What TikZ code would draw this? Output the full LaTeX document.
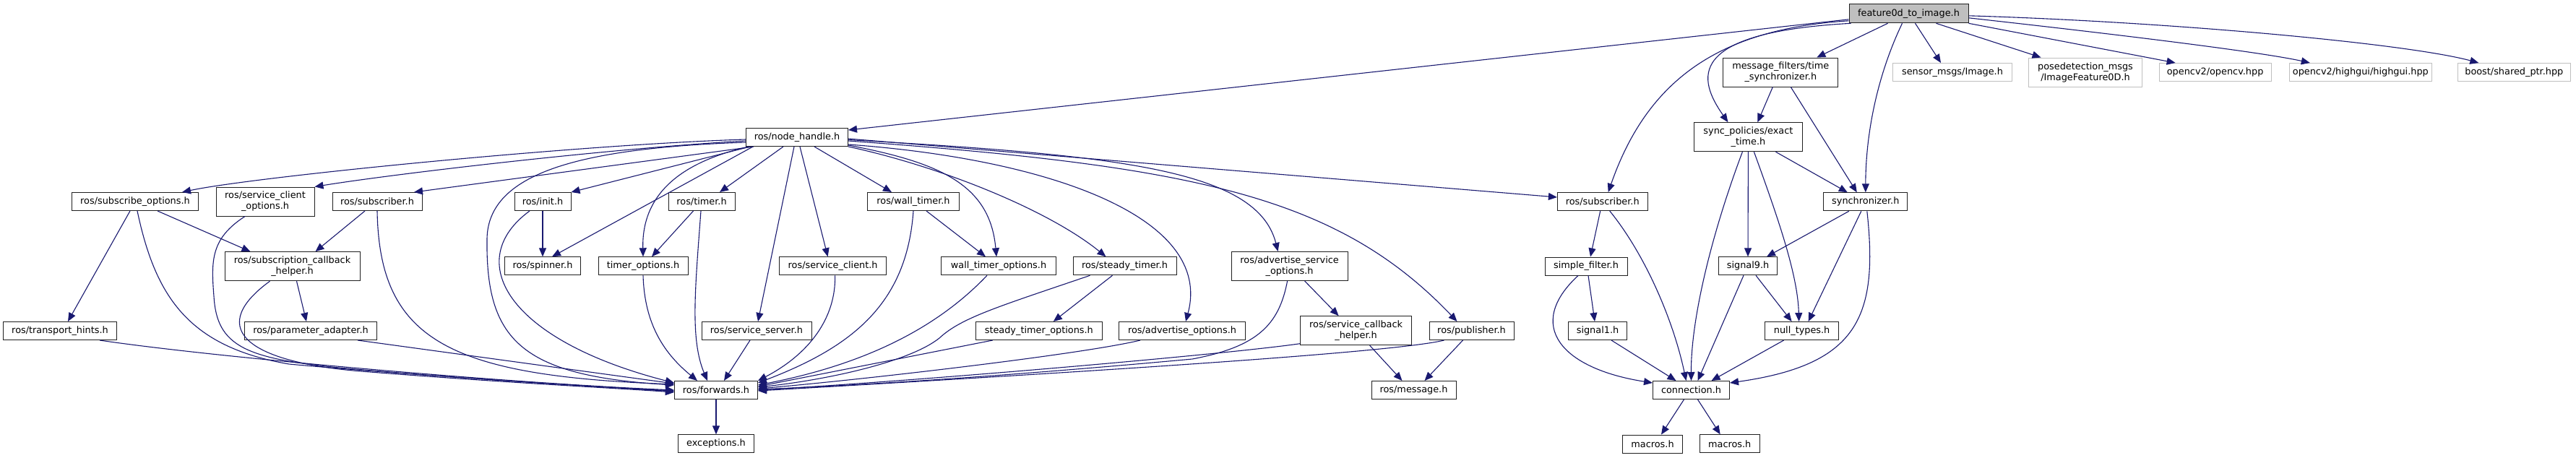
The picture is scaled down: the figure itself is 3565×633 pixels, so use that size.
\documentclass[tikz,border=0pt]{standalone}
\usepackage{fontspec}
\setmainfont{DejaVu Sans}
\usetikzlibrary{arrows.meta}
\definecolor{edgeblue}{HTML}{191970}
\definecolor{greyA}{HTML}{BFBFBF}
\definecolor{boxline}{HTML}{202020}
\begin{document}
\begin{tikzpicture}[x=1pt,y=-1pt,
  nd/.style={draw=boxline, line width=1pt, fill=white, inner sep=0pt, align=center,
    font=\fontsize{12.85}{15}\selectfont},
  gnd/.style={nd, draw=greyA},
  rootnd/.style={nd, fill=greyA},
  e/.style={draw=edgeblue, line width=1.1pt, -{Triangle[length=12pt,width=10pt]}, fill=none},
]
\fill[white] (0,0) rectangle (3565,633);
\useasboundingbox (0,0) rectangle (3565,633);

% ---------- nodes ----------
\node[rootnd, minimum width=165pt, minimum height=26pt] (root) at (2641.5,18.8) {feature0d\_to\_image.h};
\node[nd, minimum width=159pt, minimum height=40pt] (ts) at (2464.3,100) {message\_filters/time\\\_synchronizer.h};
\node[gnd, minimum width=165pt, minimum height=25pt] (si) at (2702,100) {sensor\_msgs/Image.h};
\node[gnd, minimum width=157pt, minimum height=40pt] (pd) at (2886,100) {posedetection\_msgs\\/ImageFeature0D.h};
\node[gnd, minimum width=155pt, minimum height=25pt] (oc) at (3065.6,100) {opencv2/opencv.hpp};
\node[gnd, minimum width=197.6pt, minimum height=25pt] (hg) at (3266.8,100) {opencv2/highgui/highgui.hpp};
\node[gnd, minimum width=156pt, minimum height=25pt] (bo) at (3479.3,100) {boost/shared\_ptr.hpp};

\node[nd, minimum width=141pt, minimum height=25pt] (nh) at (1103,190) {ros/node\_handle.h};
\node[nd, minimum width=150pt, minimum height=40pt] (et) at (2419.4,189.7) {sync\_policies/exact\\\_time.h};

\node[nd, minimum width=174.5pt, minimum height=25pt] (so) at (187,279) {ros/subscribe\_options.h};
\node[nd, minimum width=136pt, minimum height=40pt] (sc) at (367,279) {ros/service\_client\\\_options.h};
\node[nd, minimum width=124pt, minimum height=25pt] (sl) at (522,279) {ros/subscriber.h};
\node[nd, minimum width=78pt, minimum height=25pt] (ini) at (751,279) {ros/init.h};
\node[nd, minimum width=92pt, minimum height=25pt] (ti) at (971,279) {ros/timer.h};
\node[nd, minimum width=127pt, minimum height=25pt] (wt) at (1264,279) {ros/wall\_timer.h};
\node[nd, minimum width=124.6pt, minimum height=25pt] (sr) at (2217.7,279) {ros/subscriber.h};
\node[nd, minimum width=116pt, minimum height=25pt] (sy) at (2581.8,279.3) {synchronizer.h};

\node[nd, minimum width=187pt, minimum height=40pt] (sch) at (404.5,368.7) {ros/subscription\_callback\\\_helper.h};
\node[nd, minimum width=105pt, minimum height=25pt] (sp) at (751,368.3) {ros/spinner.h};
\node[nd, minimum width=124pt, minimum height=25pt] (tmo) at (890,368.3) {timer\_options.h};
\node[nd, minimum width=148pt, minimum height=25pt] (scl) at (1152.6,368.3) {ros/service\_client.h};
\node[nd, minimum width=159pt, minimum height=25pt] (wto) at (1382,368.3) {wall\_timer\_options.h};
\node[nd, minimum width=143pt, minimum height=25pt] (st) at (1556.5,368.3) {ros/steady\_timer.h};
\node[nd, minimum width=161pt, minimum height=40pt] (aso) at (1784.6,368.5) {ros/advertise\_service\\\_options.h};
\node[nd, minimum width=114pt, minimum height=25pt] (sf) at (2195,368.5) {simple\_filter.h};
\node[nd, minimum width=81.5pt, minimum height=25pt] (s9) at (2419,368.3) {signal9.h};

\node[nd, minimum width=156.5pt, minimum height=25pt] (th) at (83,458) {ros/transport\_hints.h};
\node[nd, minimum width=183pt, minimum height=25pt] (pa) at (430,458) {ros/parameter\_adapter.h};
\node[nd, minimum width=152pt, minimum height=25pt] (ss) at (1047,458) {ros/service\_server.h};
\node[nd, minimum width=175pt, minimum height=25pt] (sto) at (1437.8,458) {steady\_timer\_options.h};
\node[nd, minimum width=175pt, minimum height=25pt] (ao) at (1636,458) {ros/advertise\_options.h};
\node[nd, minimum width=154pt, minimum height=40pt] (svh) at (1876.6,457.7) {ros/service\_callback\\\_helper.h};
\node[nd, minimum width=117pt, minimum height=25pt] (pu) at (2036.5,458) {ros/publisher.h};
\node[nd, minimum width=81pt, minimum height=25pt] (s1) at (2211,458) {signal1.h};
\node[nd, minimum width=102pt, minimum height=25pt] (nt) at (2493.6,458) {null\_types.h};

\node[nd, minimum width=115pt, minimum height=25pt] (fw) at (991,540) {ros/forwards.h};
\node[nd, minimum width=117pt, minimum height=25pt] (ms) at (1956.5,540) {ros/message.h};
\node[nd, minimum width=106pt, minimum height=25pt] (co) at (2340.5,540) {connection.h};

\node[nd, minimum width=105.6pt, minimum height=25pt] (ex) at (991,614.3) {exceptions.h};
\node[nd, minimum width=82.6pt, minimum height=25pt] (ml) at (2287,614.5) {macros.h};
\node[nd, minimum width=82.6pt, minimum height=25pt] (mr) at (2393.7,614.3) {macros.h};

% ---------- edges from root ----------
\draw[e] ([yshift=-8pt]root.west) -- ([yshift=10pt]nh.east);
\draw[e] ([xshift=-29pt]root.south) -- ([xshift=50pt]ts.north);
\draw[e] ([xshift=9pt]root.south) -- ([xshift=-16pt]si.north);
\draw[e] ([xshift=38pt]root.south) -- ([xshift=-61.5pt]pd.north);
\draw[e] (root.south east) -- ([xshift=-55pt]oc.north);
\draw[e] ([yshift=-6pt]root.east) .. controls (2880,42) and (3120,70) .. ([xshift=-70pt]hg.north);
\draw[e] ([yshift=-3pt]root.east) .. controls (3000,30) and (3330,60) .. ([xshift=-49pt]bo.north);
\draw[e] ([yshift=-10pt]root.west) .. controls (2380,40) and (2280,110) .. ([xshift=8pt]sr.north);
\draw[e] ([xshift=3pt]root.south west) .. controls (2330,45) and (2350,110) .. ([xshift=-28pt]et.north);
\draw[e] ([xshift=-9pt]root.south) .. controls (2600,100) and (2582,180) .. (sy.north);

% ---------- edges from node_handle ----------
\draw[e] ([yshift=-3pt]nh.west) .. controls (800,200) and (350,245) .. ([xshift=65pt]so.north);
\draw[e] ([yshift=-5pt]nh.west) .. controls (850,205) and (550,240) .. (sc.north east);
\draw[e] ([xshift=11pt]nh.south west) -- ([xshift=51pt]sl.north);
\draw[e] ([yshift=-7pt]nh.west) .. controls (800,205) and (676,240) .. (674,330)
   .. controls (672,470) and (720,520) .. ([yshift=7pt]fw.west);
\draw[e] ([xshift=6pt]nh.south west) -- (ini.north east);
\draw[e] ([xshift=10pt]nh.south west) -- ([xshift=13pt]sp.north);
\draw[e] ([xshift=4pt]nh.south west) .. controls (940,225) and (888,270) .. (tmo.north);
\draw[e] ([xshift=-19pt]nh.south) -- ([xshift=25pt]ti.north);
\draw[e] ([xshift=-4pt]nh.south) -- ([xshift=2pt]ss.north);
\draw[e] ([xshift=4pt]nh.south) -- ([xshift=-7pt]scl.north);
\draw[e] ([xshift=24pt]nh.south) -- ([xshift=-30pt]wt.north);
\draw[e] ([yshift=-11pt]nh.east) .. controls (1300,225) and (1370,255) .. ([xshift=-3pt]wto.north);
\draw[e] (nh.south east) .. controls (1300,230) and (1450,290) .. ([xshift=-26pt]st.north);
\draw[e] ([yshift=-10pt]nh.east) .. controls (1450,220) and (1680,300) .. ([xshift=5pt]ao.north);
\draw[e] ([yshift=-3.5pt]nh.east) .. controls (1550,215) and (1740,235) .. ([xshift=-16pt]aso.north);
\draw[e] ([yshift=-5pt]nh.east) .. controls (1650,230) and (1850,270) .. ([xshift=-20pt]pu.north);
\draw[e] ([yshift=-2pt]nh.east) -- ([yshift=6pt]sr.west);

% ---------- left part ----------
\draw[e] ([xshift=-7pt]so.south) -- ([xshift=11pt]th.north);
\draw[e] ([xshift=31pt]so.south) -- ([xshift=-58pt]sch.north);
\draw[e] ([xshift=3pt]so.south) .. controls (215,410) and (260,480) .. (400,504)
   .. controls (600,522) and (800,533) .. ([yshift=-2pt]fw.west);
\draw[e] ([xshift=-28pt]sc.south) .. controls (292,330) and (292,360) .. (296,410)
   .. controls (300,480) and (340,497) .. (480,510)
   .. controls (650,525) and (820,535) .. ([yshift=-1pt]fw.west);
\draw[e] ([xshift=-17pt]sl.south) -- ([xshift=32pt]sch.north);
\draw[e] (sl.south) .. controls (525,470) and (620,520) .. ([yshift=8pt]fw.west);
\draw[e] ([xshift=6pt]sch.south) -- ([xshift=-6pt]pa.north);
\draw[e] ([xshift=-31pt]sch.south) .. controls (290,450) and (330,500) .. (500,514)
   .. controls (700,530) and (850,537) .. ([yshift=-3pt]fw.west);
\draw[e] ([xshift=55pt]th.south) .. controls (300,495) and (700,530) .. ([yshift=0pt]fw.west);
\draw[e] ([xshift=65pt]pa.south) -- ([yshift=9pt]fw.west);
\draw[e] (ini.south) -- (sp.north);
\draw[e] ([xshift=-18pt]ini.south) .. controls (640,360) and (700,470) .. ([yshift=10pt]fw.west);
\draw[e] ([xshift=-11.5pt]ti.south) -- ([xshift=12pt]tmo.north);
\draw[e] ([xshift=-1pt]ti.south) .. controls (962,400) and (955,470) .. ([xshift=-12pt]fw.north);
\draw[e] (tmo.south) .. controls (892,450) and (920,490) .. ([xshift=-26pt]fw.north);
\draw[e] ([xshift=-9pt]ss.south) -- ([xshift=11pt]fw.north);
\draw[e] ([xshift=3pt]scl.south) .. controls (1157,440) and (1120,490) .. (fw.north east);
\draw[e] ([xshift=18pt]wt.south) -- ([xshift=-18pt]wto.north);
\draw[e] (wt.south) .. controls (1255,420) and (1180,480) .. ([yshift=10pt]fw.east);
\draw[e] ([xshift=-16pt]wto.south) .. controls (1310,440) and (1220,500) .. ([yshift=7pt]fw.east);
\draw[e] ([xshift=-17pt]st.south) -- ([xshift=20pt]sto.north);
\draw[e] ([xshift=-48pt]st.south) .. controls (1380,425) and (1330,440) .. (1300,468)
   .. controls (1260,500) and (1150,525) .. ([yshift=4pt]fw.east);
\draw[e] ([xshift=-64pt]sto.south) -- ([yshift=5pt]fw.east);
\draw[e] ([xshift=-58pt]ao.south) .. controls (1500,490) and (1200,525) .. ([yshift=2pt]fw.east);
\draw[e] ([xshift=21pt]aso.south) -- ([xshift=-24pt]svh.north);
\draw[e] ([xshift=-3pt]aso.south) .. controls (1770,450) and (1740,480) .. (1650,497)
   .. controls (1400,520) and (1200,533) .. ([yshift=1pt]fw.east);
\draw[e] ([xshift=19pt]svh.south) -- ([xshift=-16pt]ms.north);
\draw[e] ([yshift=-18pt]svh.west) .. controls (1700,490) and (1300,525) .. ([yshift=0pt]fw.east);
\draw[e] ([xshift=-12pt]pu.south) -- ([xshift=15pt]ms.north);
\draw[e] ([xshift=-38pt]pu.south) .. controls (1930,488) and (1500,515) .. ([yshift=-1pt]fw.east);
\draw[e] (fw.south) -- (ex.north);

% ---------- right part ----------
\draw[e] ([xshift=-11pt]ts.south) -- ([xshift=13pt]et.north);
\draw[e] ([xshift=14pt]ts.south) -- ([xshift=-12pt]sy.north);
\draw[e] ([xshift=38pt]et.south) -- ([xshift=-25pt]sy.north);
\draw[e] (et.south) -- (s9.north);
\draw[e] ([xshift=8pt]et.south) .. controls (2460,300) and (2488,380) .. ([xshift=-4pt]nt.north);
\draw[e] ([xshift=-8pt]et.south) .. controls (2370,320) and (2340,440) .. (co.north);
\draw[e] ([xshift=-23pt]sy.south) -- ([xshift=26pt]s9.north);
\draw[e] ([xshift=-6pt]sy.south) -- ([xshift=9pt]nt.north);
\draw[e] ([xshift=2pt]sy.south) .. controls (2600,440) and (2570,505) .. ([yshift=10pt]co.east);
\draw[e] ([xshift=11pt]s9.south) -- ([xshift=-14pt]nt.north);
\draw[e] ([xshift=-6pt]s9.south) -- ([xshift=9pt]co.north);
\draw[e] ([xshift=-25pt]nt.south) -- ([xshift=28pt]co.north);
\draw[e] ([xshift=-3pt]sr.south) -- ([xshift=6pt]sf.north);
\draw[e] ([xshift=10pt]sr.south) .. controls (2275,350) and (2315,440) .. ([xshift=-7pt]co.north);
\draw[e] ([xshift=3pt]sf.south) -- ([xshift=-4pt]s1.north);
\draw[e] ([xshift=-11pt]sf.south) .. controls (2110,450) and (2160,510) .. ([yshift=10pt]co.west);
\draw[e] ([xshift=19pt]s1.south) -- ([xshift=-21pt]co.north);
\draw[e] ([xshift=-10pt]co.south) -- ([xshift=12pt]ml.north);
\draw[e] ([xshift=9pt]co.south) -- ([xshift=-13pt]mr.north);
\end{tikzpicture}
\end{document}
